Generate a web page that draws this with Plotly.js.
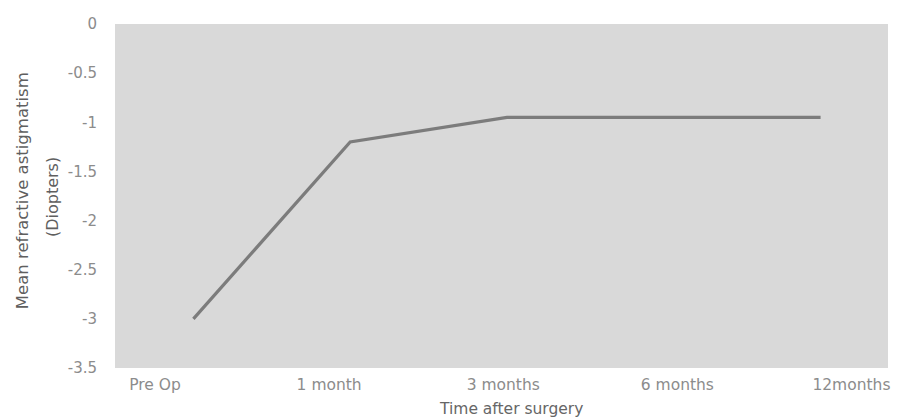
<!DOCTYPE html>
<html>
<head>
<meta charset="utf-8">
<script src="https://cdn.plot.ly/plotly-3.0.1.min.js"></script>
<style>
  html, body { margin: 0; padding: 0; background: #ffffff; }
  #chart { width: 898px; height: 417px; }
</style>
</head>
<body>
<div id="chart"></div>
<script>
// Follow-up time points and mean refractive astigmatism (D)
const timepoints = ["Pre Op", "1 month", "3 months", "6 months", "12months"];
const astigmatism = [-3.0, -1.2, -0.95, -0.95, -0.95];
const yTicks = [0, -0.5, -1, -1.5, -2, -2.5, -3, -3.5];

const FONT = "DejaVu Sans, Verdana, sans-serif";
const xTickFont = { family: FONT, size: 15.5, color: "#8c8c8c" };
const yTickFont = { family: FONT, size: 15, color: "#8c8c8c" };
const titleFont = { family: FONT, size: 15.5, color: "#666666" };

const trace = {
  x: timepoints.map((_, i) => i),
  y: astigmatism,
  type: "scatter",
  mode: "lines",
  line: { color: "#7c7c7c", width: 3.2 },
  hoverinfo: "x+y",
  showlegend: false
};

// Invisible carrier for the category labels along the bottom axis
const labelTrace = {
  x: timepoints,
  y: astigmatism,
  xaxis: "x2",
  type: "scatter",
  mode: "lines",
  line: { width: 0 },
  hoverinfo: "skip",
  showlegend: false
};

const layout = {
  width: 898,
  height: 417,
  margin: { l: 115, r: 10, t: 24, b: 49 },
  paper_bgcolor: "#ffffff",
  plot_bgcolor: "#d9d9d9",
  xaxis: {
    range: [-0.5, 4.43],
    showticklabels: false,
    showgrid: false,
    zeroline: false,
    showline: false,
    ticks: ""
  },
  xaxis2: {
    type: "category",
    overlaying: "x",
    side: "bottom",
    range: [-0.23, 4.21],
    showgrid: false,
    zeroline: false,
    showline: false,
    ticks: "",
    ticklabelstandoff: 5,
    tickfont: xTickFont
  },
  yaxis: {
    range: [-3.5, 0],
    tickvals: yTicks,
    ticktext: yTicks.map(v => String(v)),
    showgrid: false,
    zeroline: false,
    showline: false,
    ticks: "",
    ticklabelstandoff: 17,
    tickfont: yTickFont
  },
  annotations: [
    {
      text: "Mean refractive astigmatism",
      xref: "paper", yref: "paper",
      x: -0.1203, y: 0.514,
      xanchor: "center", yanchor: "middle",
      textangle: -90, showarrow: false,
      font: { family: FONT, size: 16.5, color: "#5f5f5f" }
    },
    {
      text: "(Diopters)",
      xref: "paper", yref: "paper",
      x: -0.0815, y: 0.497,
      xanchor: "center", yanchor: "middle",
      textangle: -90, showarrow: false,
      font: { family: FONT, size: 16, color: "#5f5f5f" }
    },
    {
      text: "Time after surgery",
      xref: "paper", yref: "paper",
      x: 0.512, y: -0.119,
      xanchor: "center", yanchor: "middle",
      showarrow: false,
      font: titleFont
    }
  ]
};

Plotly.newPlot("chart", [trace, labelTrace], layout, { displayModeBar: false, staticPlot: true });
</script>
</body>
</html>
